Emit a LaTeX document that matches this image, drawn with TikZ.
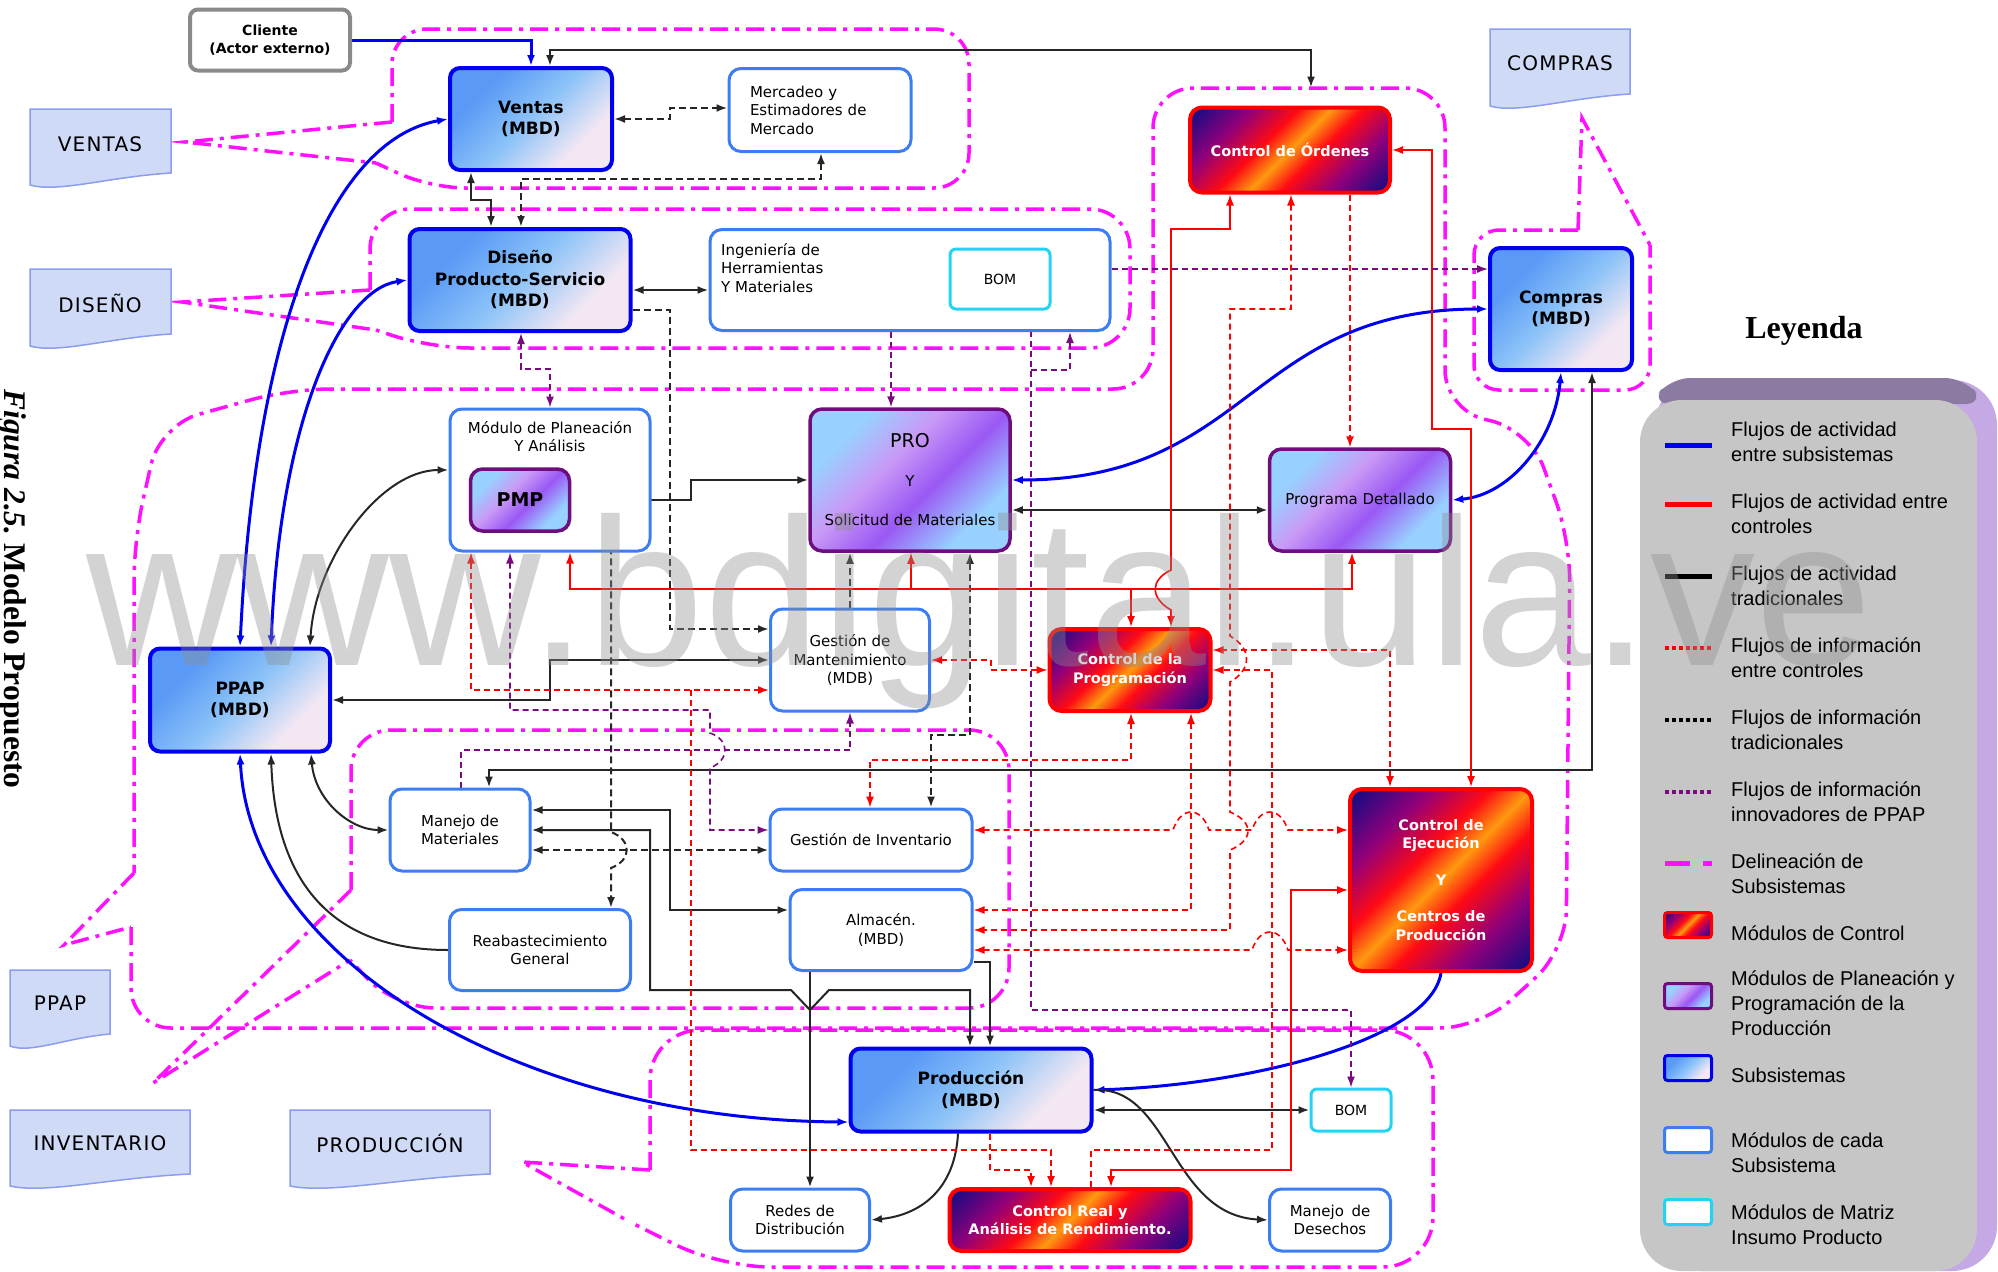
\documentclass[tikz,border=0pt]{standalone}
\usepackage{fontspec}
\usetikzlibrary{arrows.meta,calc}
\newfontfamily\lbl{DejaVu Sans}
\newfontfamily\arial{Liberation Sans}
\newfontfamily\tnr{Liberation Serif}

% colours
\definecolor{sbA}{HTML}{5A9AF6}
\definecolor{sbB}{HTML}{8CC3F8}
\definecolor{sbC}{HTML}{F3E7F3}
\definecolor{ctN}{HTML}{1E0A82}
\definecolor{ctP}{HTML}{90007A}
\definecolor{ctR}{HTML}{FF0A14}
\definecolor{ctO}{HTML}{FF9A10}
\definecolor{plA}{HTML}{98D0FF}
\definecolor{plL}{HTML}{C99AF6}
\definecolor{plV}{HTML}{9A58F4}
\definecolor{subBlue}{HTML}{0000EE}
\definecolor{modBlue}{HTML}{3C7DF2}
\definecolor{matCyan}{HTML}{22D4F2}
\definecolor{planBorder}{HTML}{6E0E7E}
\definecolor{ppapPurple}{HTML}{7A0A80}
\definecolor{outlineMag}{HTML}{FF10FF}
\definecolor{docFill}{HTML}{CEDAF6}
\definecolor{docLine}{HTML}{8C9CEE}
\definecolor{lgGray}{HTML}{C6C6C6}
\definecolor{lgDark}{HTML}{8B7BA3}
\definecolor{lgLight}{HTML}{C4A9E4}
\definecolor{flowBlue}{HTML}{0000F0}
\definecolor{flowRed}{HTML}{FF0000}
\definecolor{clientGray}{HTML}{8A8A8A}
\definecolor{wmGray}{HTML}{8E8E8E}

% fills of the three kinds of boxes
\pgfdeclarehorizontalshading{subsysshade}{100bp}{color(0bp)=(sbA); color(30bp)=(sbA); color(50bp)=(sbB); color(70bp)=(sbC); color(100bp)=(sbC)}
\pgfdeclarehorizontalshading{ctrlshade}{100bp}{color(0bp)=(ctN); color(17bp)=(ctN); color(30bp)=(ctP); color(42bp)=(ctR); color(50bp)=(ctO); color(58bp)=(ctR); color(70bp)=(ctP); color(83bp)=(ctN); color(100bp)=(ctN)}
\pgfdeclarehorizontalshading{planshade}{100bp}{color(0bp)=(plA); color(28bp)=(plA); color(42bp)=(plL); color(56bp)=(plV); color(72bp)=(plA); color(100bp)=(plA)}

\pgfdeclarelayer{outl}
\pgfdeclarelayer{lines}
\pgfdeclarelayer{top}
\pgfsetlayers{outl,lines,main,top}

\tikzset{
  subsys/.style={draw=subBlue, line width=4pt, rounded corners=10pt, shade, shading=subsysshade, shading angle=-45,
    font=\lbl\bfseries\fontsize{17}{21.5}\selectfont, align=center, inner sep=0pt},
  ctrl/.style={draw=red, line width=4pt, rounded corners=12pt, shade, shading=ctrlshade, shading angle=-45,
    font=\lbl\bfseries\fontsize{14.5}{18.5}\selectfont, text=white, align=center, inner sep=0pt},
  plan/.style={draw=planBorder, line width=3.5pt, rounded corners=12pt, shade, shading=planshade, shading angle=-45,
    font=\lbl\fontsize{15}{18.5}\selectfont, align=center, inner sep=0pt},
  modbox/.style={draw=modBlue, line width=3pt, rounded corners=12pt, fill=white,
    font=\lbl\fontsize{15}{18.5}\selectfont, align=center, inner sep=0pt},
  matbox/.style={draw=matCyan, line width=3pt, rounded corners=6pt, fill=white,
    font=\lbl\fontsize{14}{18}\selectfont, align=center, inner sep=0pt},
  clientbox/.style={draw=clientGray, line width=4pt, rounded corners=8pt, fill=white,
    font=\lbl\bfseries\fontsize{14}{17.5}\selectfont, align=center, inner sep=0pt},
  modtxt/.style={font=\lbl\fontsize{15}{18.5}\selectfont, inner sep=0pt},
  doctxt/.style={font=\lbl\fontsize{20}{22}\selectfont\addfontfeature{LetterSpace=6}, inner sep=0pt},
  docstyle/.style={fill=docFill, draw=docLine, line width=1.5pt},
  subline/.style={draw=outlineMag, line width=3.5pt, dash pattern=on 18pt off 7pt on 4pt off 7pt},
  bluef/.style={draw=flowBlue, line width=3pt},
  blk/.style={draw=black!85, line width=2pt},
  blkd/.style={draw=black!85, line width=2pt, dash pattern=on 7pt off 4pt},
  reds/.style={draw=flowRed, line width=1.6pt},
  redd/.style={draw=flowRed, line width=1.6pt, dash pattern=on 6pt off 4pt},
  purd/.style={draw=ppapPurple, line width=1.6pt, dash pattern=on 6pt off 4pt},
  lgtxt/.style={font=\arial\fontsize{20}{25}\selectfont, anchor=west, align=left, inner sep=0pt},
}

% document symbol with a wavy lower edge: x1, y1, x2, y2
\newcommand{\docshape}[4]{%
  \filldraw[docstyle] (#1,#2) -- (#3,#2) -- ({#3},{#4-16})
    .. controls ({#1+0.55*(#3-#1)},{#4-12}) and ({#1+0.2*(#3-#1)},{#4+4}) .. ({#1},{#4-4}) -- cycle;}

\begin{document}
\begin{tikzpicture}[x=1pt, y=-1pt, >={Latex[length=11pt,width=8pt]}]
\useasboundingbox (0,0) rectangle (1998,1272);

% ---------------- boxes ----------------
\node[clientbox, minimum width=160, minimum height=61] (cliente) at (270,40) {Cliente\\(Actor externo)};

\node[subsys, minimum width=162, minimum height=102] (ventas) at (531,119) {Ventas\\(MBD)};
\node[subsys, minimum width=221, minimum height=102] (diseno) at (520,280) {Diseño\\Producto-Servicio\\(MBD)};
\node[subsys, minimum width=142, minimum height=122] (compras) at (1561,309) {Compras\\(MBD)};
\node[subsys, minimum width=180, minimum height=103] (ppap) at (240,700) {PPAP\\(MBD)};
\node[subsys, minimum width=241, minimum height=83] (produccion) at (971,1090) {Producción\\(MBD)};

\node[ctrl, minimum width=200, minimum height=85] (ordenes) at (1290,150) {Control de Órdenes};
\node[ctrl, minimum width=161, minimum height=82] (cprog) at (1130,670) {Control de la\\Programación};
\node[ctrl, minimum width=182, minimum height=182] (cejec) at (1441,880) {Control de\\Ejecución\\[18pt]Y\\[18pt]Centros de\\Producción};
\node[ctrl, minimum width=241, minimum height=62] (creal) at (1070,1220) {Control Real y\\Análisis de Rendimiento.};

\node[modbox, minimum width=182, minimum height=83, text width=140, align=left] (mercadeo) at (820,110) {Mercadeo y\\Estimadores de\\Mercado};
\node[modbox, minimum width=400, minimum height=101] (ingenieria) at (910,280) {};
\node[modtxt, anchor=north west, align=left] (ingtxt) at (721,243) {Ingeniería de\\Herramientas\\Y Materiales};
\node[matbox, minimum width=100, minimum height=60] (bomA) at (1000,279) {BOM};

\node[modbox, minimum width=200, minimum height=142] (planeacion) at (550,480) {};
\node[modtxt, anchor=north, align=center] (plantxt) at (550,421) {Módulo de Planeación\\Y Análisis};
\node[plan, minimum width=99, minimum height=62, font=\lbl\bfseries\fontsize{19}{22}\selectfont] (pmp) at (520,500) {PMP};
\node[plan, minimum width=200, minimum height=142, font=\lbl\fontsize{15}{39}\selectfont] (pro) at (910,480) {{\fontsize{19}{39}\selectfont PRO}\\Y\\Solicitud de Materiales};
\node[plan, minimum width=181, minimum height=102] (detallado) at (1360,500) {Programa Detallado};

\node[modbox, minimum width=159, minimum height=102] (mant) at (850,660) {Gestión de\\Mantenimiento\\(MDB)};
\node[modbox, minimum width=140, minimum height=82] (manejo) at (460,830) {Manejo de\\Materiales};
\node[modbox, minimum width=202, minimum height=62] (inventario) at (871,840) {Gestión de Inventario};
\node[modbox, minimum width=181, minimum height=81] (reab) at (540,950) {Reabastecimiento\\General};
\node[modbox, minimum width=182, minimum height=81] (almacen) at (881,930) {Almacén.\\(MBD)};
\node[modbox, minimum width=139, minimum height=62] (redes) at (800,1220) {Redes de\\Distribución};
\node[modbox, minimum width=121, minimum height=62] (desechos) at (1330,1220) {Manejo\enspace de\\Desechos};
\node[matbox, minimum width=80, minimum height=42] (bomB) at (1351,1110) {BOM};

% ---------------- documents ----------------
\docshape{30}{109}{171}{189}
\node[doctxt] (docventas) at (100,144) {VENTAS};
\docshape{30}{269}{171}{350}
\node[doctxt] (docdiseno) at (100,303) {DISEÑO};
\docshape{1490}{29}{1630}{110}
\node[doctxt] (doccompras) at (1560,63) {COMPRAS};
\docshape{10}{970}{110}{1050}
\node[doctxt] (docppap) at (60,1003) {PPAP};
\docshape{10}{1110}{190}{1190}
\node[doctxt] (docinv) at (100,1143) {INVENTARIO};
\docshape{290}{1110}{490}{1190}
\node[doctxt] (docprod) at (390,1143) {PRODUCCIÓN};

% ---------------- legend ----------------
\fill[lgLight, rounded corners=45] (1655,380) rectangle (1997,1271);
\fill[lgDark, rounded corners=20] (1670,378) -- (1965,378) -- (1985,404) -- (1650,404) -- cycle;
\fill[lgGray, rounded corners=42] (1640,400) rectangle (1977,1271);
\node[font=\tnr\bfseries\fontsize{32}{32}\selectfont] (leyenda) at (1804,331) {Leyenda};

\draw[flowBlue, line width=5pt] (1665,445) -- (1712,445);
\draw[flowRed, line width=5pt] (1665,504) -- (1712,504);
\draw[black, line width=5pt] (1665,576) -- (1712,576);
\draw[flowRed, line width=4pt, dash pattern=on 4pt off 3pt] (1665,648) -- (1712,648);
\draw[black, line width=4pt, dash pattern=on 4pt off 3pt] (1665,720) -- (1712,720);
\draw[ppapPurple, line width=4pt, dash pattern=on 4pt off 3pt] (1665,792) -- (1712,792);
\draw[outlineMag, line width=5pt, dash pattern=on 25pt off 13pt on 9pt off 20pt] (1665,863) -- (1712,863);
\node[ctrl, line width=3pt, rounded corners=3pt, minimum width=47, minimum height=25] (lgctrl) at (1688,925) {};
\node[plan, line width=3pt, rounded corners=3pt, minimum width=47, minimum height=25] (lgplan) at (1688,996) {};
\node[subsys, line width=3pt, rounded corners=3pt, minimum width=47, minimum height=25] (lgsub) at (1688,1068) {};
\node[modbox, line width=3pt, rounded corners=3pt, minimum width=47, minimum height=25] (lgmod) at (1688,1140) {};
\node[matbox, line width=3pt, rounded corners=3pt, minimum width=47, minimum height=25] (lgmat) at (1688,1212) {};

\node[lgtxt] (lt1) at (1731,442) {Flujos de actividad\\entre subsistemas};
\node[lgtxt] (lt2) at (1731,514) {Flujos de actividad entre\\controles};
\node[lgtxt] (lt3) at (1731,586) {Flujos de actividad\\tradicionales};
\node[lgtxt] (lt4) at (1731,658) {Flujos de información\\entre controles};
\node[lgtxt] (lt5) at (1731,730) {Flujos de información\\tradicionales};
\node[lgtxt] (lt6) at (1731,802) {Flujos de información\\innovadores de PPAP};
\node[lgtxt] (lt7) at (1731,874) {Delineación de\\Subsistemas};
\node[lgtxt] (lt8) at (1731,933) {Módulos de Control};
\node[lgtxt] (lt9) at (1731,1003) {Módulos de Planeación y\\Programación de la\\Producción};
\node[lgtxt] (lt10) at (1731,1075) {Subsistemas};
\node[lgtxt] (lt11) at (1731,1153) {Módulos de cada\\Subsistema};
\node[lgtxt] (lt12) at (1731,1225) {Módulos de Matriz\\Insumo Producto};

% caption along the left edge
\node[rotate=-90, anchor=base, inner sep=0pt, font=\tnr\bfseries\fontsize{31.5}{31.5}\selectfont] (caption) at (5,589) {\itshape Figura 2.5.\ \upshape Modelo Propuesto};

% ---------------- subsystem outlines ----------------
\begin{pgfonlayer}{outl}
\fill[white] (0,0) rectangle (1998,1272);
% Ventas
\draw[subline, rounded corners=35] (392,122) -- (392,29) -- (969,29) -- (969,188) -- (430,188) -- (376,163);
\draw[subline] (392,122) -- (185,142) -- (376,163);
% Diseño
\draw[subline, rounded corners=40] (370,290) -- (370,209) -- (1130,209) -- (1130,348) -- (430,348) -- (376,330);
\draw[subline] (370,290) -- (182,302) -- (376,330);
% PPAP with Control de Órdenes
\draw[subline, rounded corners=40] (131,927) -- (131,1028) -- (1480,1028) -- (1566,950) -- (1570,540) -- (1530,430) -- (1445,410) -- (1445,88) -- (1153,88) -- (1153,389) -- (290,389) -- (160,425) -- (134,540) -- (134,873);
\draw[subline] (134,873) -- (64,945) -- (131,927);
% Compras
\draw[subline, rounded corners=25] (1578,230) -- (1474,230) -- (1474,390) -- (1650,390) -- (1650,245);
\draw[subline] (1578,230) -- (1582,118) -- (1650,245);
% Inventario
\draw[subline, rounded corners=40] (351,890) -- (351,730) -- (1009,730) -- (1009,1008) -- (395,1008) -- (350,960);
\draw[subline] (351,890) -- (153,1083) -- (350,960);
% Producción
\draw[subline, rounded corners=50] (650,1170) -- (650,1030) -- (1433,1030) -- (1433,1267) -- (720,1267) -- (630,1222);
\draw[subline] (650,1170) -- (522,1162) -- (630,1222);
\end{pgfonlayer}

% ---------------- connectors ----------------
\begin{pgfonlayer}{lines}
% activity between subsystems
\draw[bluef,->] (cliente.east) -| (ventas.north);
\draw[bluef,<->] (ppap.north) .. controls (255,330) and (330,140) .. (ventas.west);
\draw[bluef,<->] (ppap.north -| 271,0) .. controls (280,420) and (340,290) .. (diseno.west);
\draw[bluef,<->] (ppap.south) .. controls (250,960) and (520,1120) .. (produccion.west |- 0,1122);
\draw[bluef,<->] (pro.east) .. controls (1250,480) and (1250,309) .. (compras.west);
\draw[bluef,<->] (compras.south) .. controls (1555,440) and (1510,495) .. (detallado.east);
\draw[bluef,->] (cejec.south) .. controls (1430,1040) and (1250,1085) .. (produccion.east);

% traditional activity
\draw[blk,<->,shorten >=18pt] (ventas.north -| 550,0) |- (1311,50) -- (ordenes.north -| 1311,0);
\draw[blk,<->] (ventas.south -| 471,0) |- (491,200) -- (diseno.north -| 491,0);
\draw[blk,<->] (diseno.east |- 0,290) -- (ingenieria.west |- 0,290);
\draw[blk,->] (pmp.east) -- (691,500) |- (pro.west);
\draw[blk,<->] (ppap.north -| 310,0) .. controls (315,560) and (380,470) .. (planeacion.west |- 0,470);
\draw[blk,<->] (mant.west) -- (550,660) |- (ppap.east);
\draw[blk,<->] (pro.east |- 0,510) -- (detallado.west |- 0,510);
\draw[blk,<->] (ppap.south -| 311,0) .. controls (315,800) and (350,830) .. (manejo.west);
\draw[blk,->] (reab.west) .. controls (330,950) and (275,880) .. (ppap.south -| 271,0);
\draw[blk,<->] (compras.south -| 1592,0) |- (489,770) -- (manejo.north -| 489,0);
\draw[blk,<->] (manejo.east |- 0,810) -| (670,910) -- (almacen.west |- 0,910);
\draw[blk,<->] (manejo.east |- 0,830) -| (650,990) -- (791,990) -- (810,1010) -- (829,990) -| (produccion.north -| 970,0);
\draw[blk,->] (almacen.east |- 0,962) -| (produccion.north -| 990,0);
\draw[blk,->] (almacen.south -| 810,0) -- (redes.north -| 810,0);
\draw[blk,<->] (produccion.east |- 0,1110) -- (bomB.west);
\draw[blk,->] (produccion.south -| 958,0) .. controls (955,1190) and (920,1215) .. (redes.east);
\draw[blk,->] (produccion.east) .. controls (1170,1085) and (1170,1215) .. (desechos.west);

% traditional information
\draw[blkd,<->] (ventas.east) -- (670,119) |- (mercadeo.west |- 0,108);
\draw[blkd,<->] (mercadeo.south -| 821,0) |- (521,179) -- (diseno.north -| 521,0);
\draw[blkd,->] (diseno.east |- 0,310) -| (670,629) -- (mant.west |- 0,629);
\draw[blkd,->] (pmp.east |- 0,510) -| (611,832) .. controls (632,840) and (632,860) .. (611,868) -- (reab.north -| 611,0);
\draw[blkd,<->] (manejo.east |- 0,850) -- (inventario.west |- 0,850);
\draw[blkd,<->] (pro.south -| 970,0) |- (931,735) -- (inventario.north -| 931,0);
\draw[blkd,->] (mant.north) -- (pro.south -| 850,0);

% activity between controls
\draw[reds,<->] (ordenes.south -| 1230,0) |- (1171,229) -- (1171,570) .. controls (1150,580) and (1150,598) .. (1171,610) -- (cprog.north -| 1171,0);
\coordinate (bus) at (1131,589);
\coordinate (busPro) at (911,589);
\draw[reds,<->] (planeacion.south -| 570,0) |- (bus) -- (cprog.north -| 1131,0);
\draw[reds,->] (bus) -| (detallado.south -| 1352,0);
\draw[reds,->] (busPro) -- (pro.south -| 911,0);
\draw[reds,<->] (ordenes.east) -| (1432,429) -| (cejec.north -| 1471,0);
\draw[reds,<->] (cejec.west |- 0,890) -| (1291,1170) -| (creal.north -| 1111,0);

% information between controls
\draw[redd,<->] (ordenes.south -| 1291,0) |- (1230,309) -- (1230,636) .. controls (1252,648) and (1252,670) .. (1230,682) -- (1230,812) .. controls (1254,822) and (1254,840) .. (1230,850) -- (1230,930) -- (almacen.east |- 0,930);
\draw[redd,->] (ordenes.south -| 1350,0) -- (detallado.north -| 1350,0);
\draw[redd,<->] (cejec.north -| 1390,0) |- (cprog.east |- 0,650);
\draw[redd,->] (creal.north -| 1091,0) |- (1272,1150) |- (cprog.east |- 0,670);
\draw[redd,<->] (cprog.south -| 1131,0) |- (870,760) -- (inventario.north -| 870,0);
\draw[redd,<->] (cprog.south -| 1191,0) |- (almacen.east |- 0,910);
\draw[redd,<->] (inventario.east |- 0,830) -- (1173,830) .. controls (1181,806) and (1201,806) .. (1209,830) -- (1252,830) .. controls (1260,806) and (1280,806) .. (1288,830) -- (cejec.west |- 0,830);
\draw[redd,<->] (almacen.east |- 0,950) -- (1252,950) .. controls (1260,926) and (1280,926) .. (1288,950) -- (cejec.west |- 0,950);
\draw[redd,<->] (mant.east) -| (991,670) -- (cprog.west);
\coordinate (redj) at (691,690);
\draw[redd,<->] (planeacion.south -| 471,0) |- (mant.west |- 0,690);
\draw[redd,->] (redj) |- (1051,1150) -- (creal.north -| 1051,0);
\draw[redd,->] (produccion.south -| 990,0) |- (1031,1170) -- (creal.north -| 1031,0);

% innovative PPAP information
\draw[purd,<->] (diseno.south -| 521,0) |- (550,369) -- (planeacion.north -| 550,0);
\draw[purd,<->] (bomA.west |- 0,289) -| (pro.north -| 891,0);
\draw[purd,->] (ingenieria.east |- 0,269) -- (compras.west |- 0,269);
\draw[purd,<->] (bomB.north) |- (1031,1010) -- (bomA.south -| 1031,0);
\coordinate (pj) at (1031,370);
\draw[purd,->] (pj) -| (ingenieria.south -| 1070,0);
\draw[purd,<->] (planeacion.south -| 510,0) |- (710,710) -- (710,733) .. controls (730,740) and (730,760) .. (710,768) |- (inventario.west |- 0,830);
\draw[purd,->] (manejo.north -| 461,0) |- (850,750) -- (mant.south);
\end{pgfonlayer}

% ---------------- watermark ----------------
\begin{pgfonlayer}{top}
\node[font=\arial\fontsize{210}{210}\selectfont, text=wmGray, opacity=0.39, anchor=base west, inner sep=0pt] (wm) at (86,665) {www.bdigital.ula.ve};
\end{pgfonlayer}
\end{tikzpicture}
\end{document}
